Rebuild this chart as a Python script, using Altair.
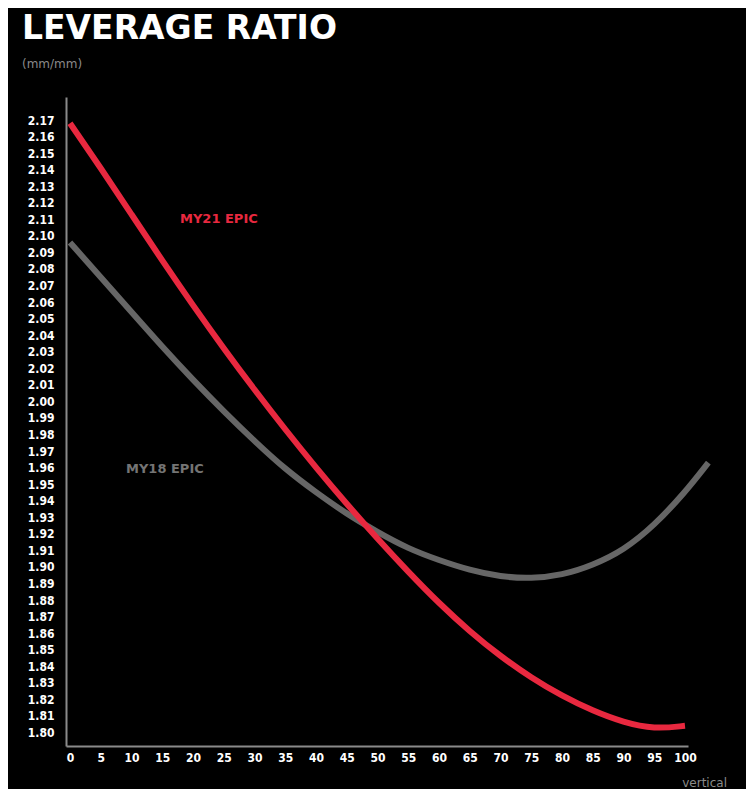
import altair as alt
import pandas as pd

# ---- data ----
travel = [0, 5, 10, 15, 20, 25, 30, 35, 40, 45, 50, 55, 60, 65, 70, 75, 80, 85, 90, 95, 100]
my21_ratio = [2.168, 2.141, 2.113, 2.085, 2.058, 2.032, 2.007, 1.983, 1.960, 1.938,
              1.917, 1.897, 1.878, 1.861, 1.846, 1.833, 1.822, 1.813, 1.806, 1.802, 1.804]
my18_travel = [0, 5, 10, 15, 20, 25, 30, 35, 40, 45, 50, 55, 60, 65, 70, 75, 80, 85, 90, 95, 100, 103.8]
my18_ratio = [2.096, 2.075, 2.054, 2.033, 2.013, 1.994, 1.976, 1.959, 1.945, 1.932,
              1.921, 1.911, 1.904, 1.898, 1.894, 1.893, 1.895, 1.901, 1.910, 1.925, 1.945, 1.963]

x_ticks = [0, 5, 10, 15, 20, 25, 30, 35, 40, 45, 50, 55, 60, 65, 70, 75, 80, 85, 90, 95, 100]
y_ticks = [1.80, 1.81, 1.82, 1.83, 1.84, 1.85, 1.86, 1.87, 1.88, 1.89,
           1.90, 1.91, 1.92, 1.93, 1.94, 1.95, 1.96, 1.97, 1.98, 1.99,
           2.00, 2.01, 2.02, 2.03, 2.04, 2.05, 2.06, 2.07, 2.08, 2.09,
           2.10, 2.11, 2.12, 2.13, 2.14, 2.15, 2.16, 2.17]

title_text = "LEVERAGE RATIO"
unit_text = "(mm/mm)"
x_name = "vertical"
series_names = ["MY21 EPIC", "MY18 EPIC"]

red = "#e8283f"
grey = "#666666"

df21 = pd.DataFrame({"travel": travel, "ratio": my21_ratio, "bike": series_names[0]})
df18 = pd.DataFrame({"travel": my18_travel, "ratio": my18_ratio, "bike": series_names[1]})

xscale = alt.Scale(domain=[-0.65, 100.49], nice=False, zero=False)
yscale = alt.Scale(domain=[1.7918, 2.1839], nice=False, zero=False)

xaxis = alt.Axis(values=x_ticks, title=None, format="d", labelOverlap=False,
                 labelPadding=6, labelFlush=False)
yaxis = alt.Axis(values=y_ticks, title=None, format=".2f", labelOverlap=False,
                 labelPadding=12, labelFlush=False)

def line(df, color):
    return alt.Chart(df).mark_line(
        color=color, strokeWidth=6, interpolate="basis", strokeCap="butt", clip=False
    ).encode(
        x=alt.X("travel:Q", scale=xscale, axis=xaxis),
        y=alt.Y("ratio:Q", scale=yscale, axis=yaxis),
    )

def label(text, x, y, size, color, weight="bold", align="left", baseline="middle"):
    return alt.Chart(pd.DataFrame({"t": [text]})).mark_text(
        font="DejaVu Sans", fontSize=size, fontWeight=weight, color=color,
        align=align, baseline=baseline
    ).encode(x=alt.value(x), y=alt.value(y), text="t:N")

chart = alt.layer(
    line(df18, grey),
    line(df21, red),
    label(series_names[0], 114, 122, 13, red),
    label(series_names[1], 60, 372, 13, "#747474"),
    label(title_text, -44, -58, 33, "white", baseline="alphabetic"),
    label(unit_text, -44, -33, 12, "#8a8a8a", weight="normal"),
    label(x_name, 661, 686, 12, "#8a8a8a", weight="normal", align="right"),
).properties(
    width=622,
    height=649,
    autosize=alt.AutoSizeParams(type="none"),
    padding={"left": 58, "top": 89, "right": 58, "bottom": 43},
).configure(
    background="black"
).configure_view(
    stroke=None
).configure_axis(
    domainColor="#8a8a8a",
    domainWidth=2,
    ticks=False,
    grid=False,
    labelColor="white",
    labelFont="DejaVu Sans Condensed",
    labelFontWeight="bold",
    labelFontSize=12,
)

chart.save("out.html", embed_options={"renderer": "svg", "actions": False})
